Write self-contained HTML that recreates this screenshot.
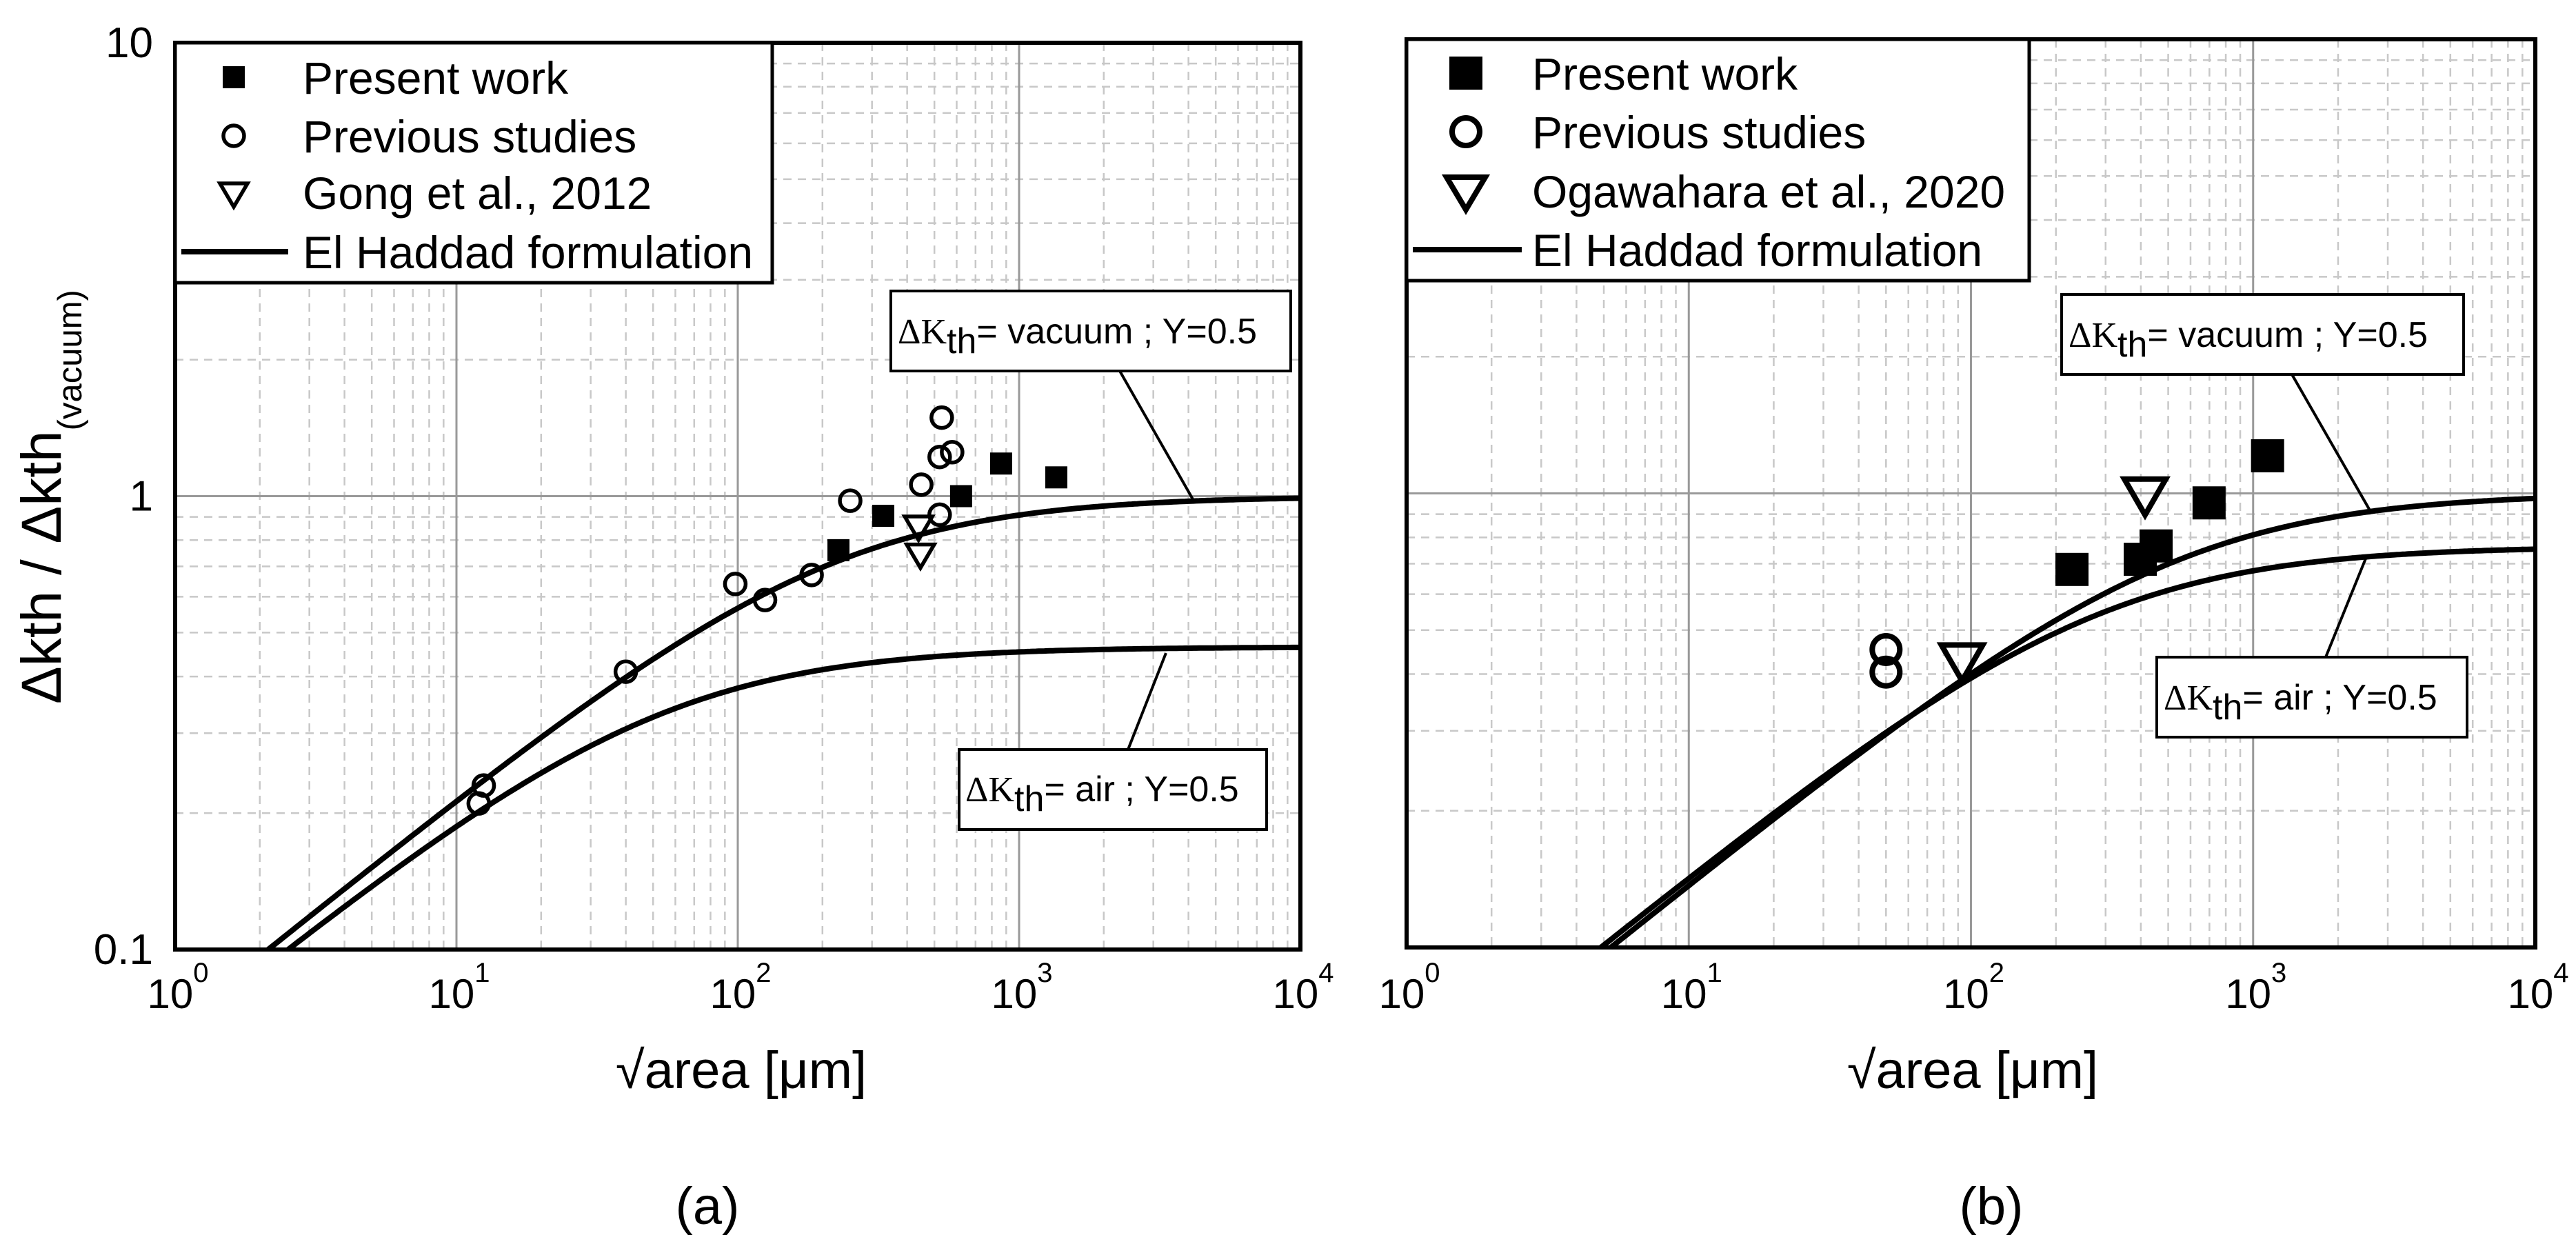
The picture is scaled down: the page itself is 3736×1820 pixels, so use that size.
<!DOCTYPE html>
<html><head><meta charset="utf-8"><style>
html,body{margin:0;padding:0;background:#fff;}
svg{display:block;font-family:"Liberation Sans",Arial,sans-serif;}
</style></head><body>
<svg id="fig" width="3736" height="1820" viewBox="0 0 3736 1820" xmlns="http://www.w3.org/2000/svg">
<g id="pa"></g>
<g id="pb"></g>
</svg>
<script>
// ---------- data ----------
// Panel (a)
const aPresentX = [228, 329, 622, 863, 1356];
const aPresentY = [0.76, 0.905, 1.0, 1.18, 1.10];
const aPrevX = [12, 12.5, 40, 98, 125, 183, 251, 449, 531, 522, 578, 522];
const aPrevY = [0.21, 0.23, 0.41, 0.64, 0.59, 0.67, 0.977, 1.06, 1.49, 1.22, 1.25, 0.91];
const aGongX = [446, 439];
const aGongY = [0.746, 0.86];
const aCurveAsym = [1.0, 0.465];
const aCurveA0 = [212, 52];
// Panel (b)
const bPresentX = [228, 398, 453, 698, 1125];
const bPresentY = [0.68, 0.716, 0.766, 0.953, 1.21];
const bPrevX = [50, 50];
const bPrevY = [0.453, 0.404];
const bOgaX = [93, 414];
const bOgaY = [0.431, 1.0];
const bCurveAsym = [1.0, 0.764];
const bCurveA0 = [524, 280];
// ticks
const xTickExp = ["0","1","2","3","4"];
const yTickLabels = ["0.1","1","10"];

const NS="http://www.w3.org/2000/svg";
function mk(parent,tag,attrs,text){const e=document.createElementNS(NS,tag);for(const k in attrs)e.setAttribute(k,attrs[k]);if(text!==undefined)e.textContent=text;parent.appendChild(e);return e;}

function panel(g, P, d){
  const xs=v=>P.x0+Math.log10(v)*P.dx;
  const ys=v=>P.y1-(Math.log10(v)+1)*P.dy;
  for(let e=0;e<4;e++){for(let m=2;m<=9;m++){const x=xs(m*Math.pow(10,e));
    const l=mk(g,'line',{x1:x,y1:P.y0,x2:x,y2:P.y1,stroke:'#c8c8c8','stroke-width':2.5,'stroke-dasharray':'12 9'});
    
    }}
  for(let e=-1;e<1;e++){for(let m=2;m<=9;m++){const y=ys(m*Math.pow(10,e));
    const l=mk(g,'line',{x1:P.x0,y1:y,x2:P.x1,y2:y,stroke:'#c8c8c8','stroke-width':2.5,'stroke-dasharray':'12 9'});
    
    }}
  for(let e=1;e<4;e++){const x=xs(Math.pow(10,e));
    const l=mk(g,'line',{x1:x,y1:P.y0,x2:x,y2:P.y1,stroke:'#999','stroke-width':3});
    
    }
  {const y=ys(1);const l=mk(g,'line',{x1:P.x0,y1:y,x2:P.x1,y2:y,stroke:'#999','stroke-width':3});
    
    }
  for(let c=0;c<d.asym.length;c++){
    let pts=[];
    for(let i=0;i<=400;i++){const lx=i/100;const a=Math.pow(10,lx);const v=d.asym[c]*Math.sqrt(a/(a+d.a0[c]));
      if(v<0.1)continue;pts.push(xs(a).toFixed(1)+','+ys(v).toFixed(1));}
    const aEnter=0.01*d.a0[c]/(d.asym[c]*d.asym[c]-0.01);
    pts.unshift(xs(aEnter).toFixed(1)+','+ys(0.1).toFixed(1));
    const p=mk(g,'polyline',{points:pts.join(' '),fill:'none',stroke:'#000','stroke-width':8,'stroke-linejoin':'round'});
    
    
  }
  for(let i=0;i<d.sqX.length;i++){const x=xs(d.sqX[i]),y=ys(d.sqY[i]);
    const r=mk(g,'rect',{x:x-P.sq/2,y:y-P.sq/2,width:P.sq,height:P.sq,fill:'#000'});
    
    }
  for(let i=0;i<d.ciX.length;i++){const x=xs(d.ciX[i]),y=ys(d.ciY[i]);
    const c=mk(g,'circle',{cx:x,cy:y,r:P.cr,fill:'none',stroke:'#000','stroke-width':P.sw});
    
    }
  for(let i=0;i<d.trX.length;i++){const x=xs(d.trX[i]),y=ys(d.trY[i]);const w=P.tw/2,h=P.th;
    const t=mk(g,'polygon',{points:`${x-w},${y-h*0.4} ${x+w},${y-h*0.4} ${x},${y+h*0.6}`,fill:'none',stroke:'#000','stroke-width':P.sw,'stroke-linejoin':'miter'});
    
    }
  const f=mk(g,'rect',{x:P.x0,y:P.y0,width:P.x1-P.x0,height:P.y1-P.y0,fill:'none',stroke:'#000','stroke-width':6});
  
  
  for(let e=0;e<xTickExp.length;e++){const x=xs(Math.pow(10,e));
    const t=mk(g,'text',{x:x+4,y:1462,'font-size':60,'text-anchor':'middle'});
    
    
    mk(t,'tspan',{},'10');mk(t,'tspan',{dy:-38,'font-size':40},xTickExp[e]);}
  if(P.yLabels){for(let i=0;i<yTickLabels.length;i++){const y=ys(Math.pow(10,i-1));
    const t=mk(g,'text',{x:222,y:y+21,'font-size':62,'text-anchor':'end'},yTickLabels[i]);
    
    }}
}

const pa=document.getElementById('pa'), pb=document.getElementById('pb');
panel(pa,{x0:254,x1:1886,dx:408,y0:62,y1:1377,dy:657.5,sq:32,cr:15,sw:5.5,tw:40,th:34,yLabels:true},
  {sqX:aPresentX,sqY:aPresentY,ciX:aPrevX,ciY:aPrevY,trX:aGongX,trY:aGongY,asym:aCurveAsym,a0:aCurveA0});
panel(pb,{x0:2040,x1:3677,dx:409.25,y0:57,y1:1374,dy:658.5,sq:48,cr:20,sw:8,tw:60,th:52,yLabels:false},
  {sqX:bPresentX,sqY:bPresentY,ciX:bPrevX,ciY:bPrevY,trX:bOgaX,trY:bOgaY,asym:bCurveAsym,a0:bCurveA0});
</script>
<script>
(function(){
const svg=document.getElementById('fig');
const NS="http://www.w3.org/2000/svg";
const html=`
<g>
 <rect x="254" y="62" width="866" height="348" fill="#fff" stroke="#000" stroke-width="5"/>
 <rect x="323" y="96" width="32" height="32" fill="#000"/>
 <circle cx="339" cy="197" r="15" fill="none" stroke="#000" stroke-width="5.5"/>
 <polygon points="319,266 359,266 339,300" fill="none" stroke="#000" stroke-width="5.5"/>
 <line x1="263" y1="365" x2="418" y2="365" stroke="#000" stroke-width="8"/>
 <text x="439" y="136" font-size="66">Present work</text>
 <text x="439" y="221" font-size="66">Previous studies</text>
 <text x="439" y="303" font-size="66">Gong et al., 2012</text>
 <text x="439" y="389" font-size="66">El Haddad formulation</text>
</g>
<g>
 <line x1="1624" y1="538" x2="1730" y2="724" stroke="#000" stroke-width="4"/>
 <rect x="1292" y="422" width="580" height="116" fill="#fff" stroke="#000" stroke-width="4"/>
 <text x="1302" y="498" font-size="52"><tspan font-family="Liberation Serif,serif">ΔK</tspan><tspan dy="14">th</tspan><tspan dy="-14">= vacuum ; Y=0.5</tspan></text>
</g>
<g>
 <line x1="1691" y1="947" x2="1636" y2="1087" stroke="#000" stroke-width="4"/>
 <rect x="1391" y="1087" width="446" height="116" fill="#fff" stroke="#000" stroke-width="4"/>
 <text x="1400" y="1162" font-size="52"><tspan font-family="Liberation Serif,serif">ΔK</tspan><tspan dy="14">th</tspan><tspan dy="-14">= air ; Y=0.5</tspan></text>
</g>
<text transform="translate(88,1021) rotate(-90)" font-size="82">Δkth  /  Δkth<tspan font-size="49" dy="30">(vacuum)</tspan></text>
<text x="1075" y="1578" font-size="76" text-anchor="middle">√area [μm]</text>
<text x="1026" y="1775" font-size="76" text-anchor="middle">(a)</text>

<g>
 <rect x="2040" y="57" width="903" height="350" fill="#fff" stroke="#000" stroke-width="5"/>
 <rect x="2102" y="82" width="48" height="48" fill="#000"/>
 <circle cx="2126" cy="191" r="20" fill="none" stroke="#000" stroke-width="8"/>
 <polygon points="2098,257 2154,257 2126,304" fill="none" stroke="#000" stroke-width="8"/>
 <line x1="2049" y1="362" x2="2207" y2="362" stroke="#000" stroke-width="8"/>
 <text x="2222" y="130" font-size="66">Present work</text>
 <text x="2222" y="215" font-size="66">Previous studies</text>
 <text x="2222" y="301" font-size="66">Ogawahara et al., 2020</text>
 <text x="2222" y="386" font-size="66">El Haddad formulation</text>
</g>
<g>
 <line x1="3324" y1="543" x2="3437" y2="740" stroke="#000" stroke-width="4"/>
 <rect x="2990" y="427" width="583" height="116" fill="#fff" stroke="#000" stroke-width="4"/>
 <text x="3000" y="503" font-size="52"><tspan font-family="Liberation Serif,serif">ΔK</tspan><tspan dy="14">th</tspan><tspan dy="-14">= vacuum ; Y=0.5</tspan></text>
</g>
<g>
 <line x1="3431" y1="810" x2="3373" y2="953" stroke="#000" stroke-width="4"/>
 <rect x="3128" y="953" width="450" height="116" fill="#fff" stroke="#000" stroke-width="4"/>
 <text x="3138" y="1029" font-size="52"><tspan font-family="Liberation Serif,serif">ΔK</tspan><tspan dy="14">th</tspan><tspan dy="-14">= air ; Y=0.5</tspan></text>
</g>
<text x="2861" y="1578" font-size="76" text-anchor="middle">√area [μm]</text>
<text x="2888" y="1775" font-size="76" text-anchor="middle">(b)</text>`;
const tmp=document.createElementNS(NS,'g');
tmp.innerHTML=html;
while(tmp.firstChild)svg.appendChild(tmp.firstChild);
})();
</script>
</body></html>
